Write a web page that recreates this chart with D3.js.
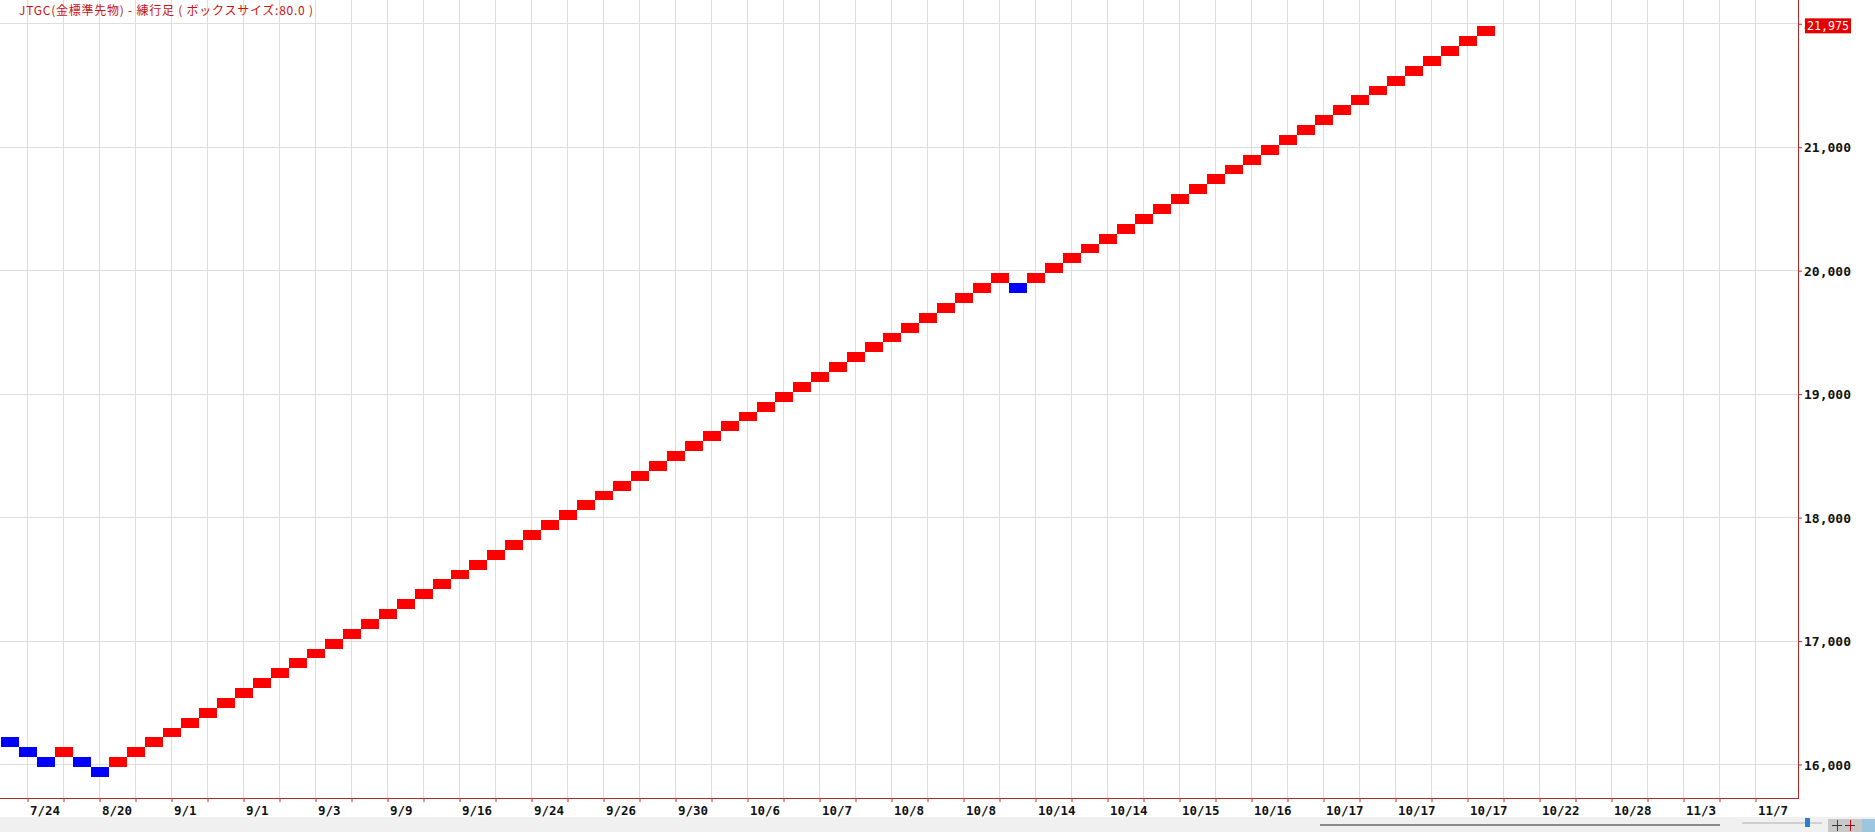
<!DOCTYPE html>
<html>
<head>
<meta charset="utf-8">
<script src="https://cdn.jsdelivr.net/npm/d3@7"></script>
<style>
    body { margin: 0; background: #fff; overflow: hidden; }
</style>
</head>
<body>
<div id="renko_chart"></div>
<script>
var title = "JTGC(金標準先物) - 練行足 ( ボックスサイズ:80.0 )";
var boxSize = 80;
var lastPrice = 21975;

// bottom price of each brick
var brickLow = [
    16135, 16055, 15975, 16055, 15975, 15895,
    15975, 16055, 16135, 16215, 16295, 16375, 16455, 16535, 16615, 16695,
    16775, 16855, 16935, 17015, 17095, 17175, 17255, 17335, 17415, 17495,
    17575, 17655, 17735, 17815, 17895, 17975, 18055, 18135, 18215, 18295,
    18375, 18455, 18535, 18615, 18695, 18775, 18855, 18935, 19015, 19095,
    19175, 19255, 19335, 19415, 19495, 19575, 19655, 19735, 19815, 19895,
    19815,
    19895, 19975, 20055, 20135, 20215, 20295, 20375, 20455, 20535, 20615,
    20695, 20775, 20855, 20935, 21015, 21095, 21175, 21255, 21335, 21415,
    21495, 21575, 21655, 21735, 21815, 21895
];
// U = up (red), D = down (blue)
var brickDir = "DDDUDD" +
    "UUUUUUUUUU" + "UUUUUUUUUU" + "UUUUUUUUUU" + "UUUUUUUUUU" + "UUUUUUUUUU" +
    "D" +
    "UUUUUUUUUU" + "UUUUUUUUUU" + "UUUUUU";

var dateLabels = ["7/24", "8/20", "9/1", "9/1", "9/3", "9/9", "9/16", "9/24", "9/26", "9/30",
    "10/6", "10/7", "10/8", "10/8", "10/14", "10/14", "10/15", "10/16", "10/17", "10/17",
    "10/17", "10/22", "10/28", "11/3", "11/7"];

var priceTicks = [16000, 17000, 18000, 19000, 20000, 21000, 22000];

function renkoChart(id) {
    var width = 1875, height = 832;
    var plotRight = 1798, plotBottom = 798;
    var axisColor = "#b8272b", gridColor = "#dddddd";
    var font = "'DejaVu Sans Mono', 'Liberation Mono', monospace";

    var svg = d3.select("#" + id)
        .html("")
        .append("svg")
        .attr("width", width)
        .attr("height", height);

    // one slot = 18px, two bricks per grid column
    var x = d3.scaleLinear()
        .domain([0, 100])
        .range([1, 1801]);

    var y = d3.scaleLinear()
        .domain([16000, 21000])
        .range([764, 146.7]);

    var tickSlots = d3.range(49).map(k => 1.5 + 2 * k);

    // grid
    var grid = svg.append("g").attr("shape-rendering", "crispEdges");
    grid.selectAll(".vgrid")
        .data(tickSlots)
        .enter().append("line")
        .attr("x1", d => Math.round(x(d)) - 0.5)
        .attr("x2", d => Math.round(x(d)) - 0.5)
        .attr("y1", 0)
        .attr("y2", plotBottom)
        .attr("stroke", gridColor);
    grid.selectAll(".hgrid")
        .data(priceTicks)
        .enter().append("line")
        .attr("x1", 0)
        .attr("x2", plotRight)
        .attr("y1", d => Math.round(y(d)) + 0.5)
        .attr("y2", d => Math.round(y(d)) + 0.5)
        .attr("stroke", gridColor);

    // bricks
    svg.append("g")
        .attr("shape-rendering", "crispEdges")
        .selectAll("rect")
        .data(brickLow)
        .enter().append("rect")
        .attr("x", (d, i) => x(i))
        .attr("width", (d, i) => x(i + 1) - x(i))
        .attr("y", d => y(d + boxSize))
        .attr("height", d => y(d) - y(d + boxSize))
        .attr("fill", (d, i) => brickDir[i] === "U" ? "#ff0000" : "#0000ff");

    // title
    svg.append("text")
        .attr("x", 19)
        .attr("y", 15)
        .attr("textLength", 294)
        .attr("lengthAdjust", "spacing")
        .style("font-family", "'Noto Sans CJK JP', sans-serif")
        .style("font-size", "12px")
        .style("fill", "#cc1111")
        .text(title);

    // x axis
    var xAxis = svg.append("g")
        .attr("transform", "translate(-0.5," + plotBottom + ")")
        .call(d3.axisBottom(x)
            .tickValues(tickSlots)
            .tickSize(4)
            .tickSizeOuter(0)
            .tickFormat((d, k) => k % 2 ? "" : dateLabels[k / 2]));
    xAxis.select(".domain").remove();
    xAxis.selectAll(".tick line").attr("stroke", axisColor);
    xAxis.selectAll(".tick text")
        .attr("text-anchor", "start")
        .attr("x", 2)
        .attr("y", 17)
        .attr("dy", 0)
        .style("font-family", font)
        .style("font-weight", "bold")
        .style("font-size", "12.5px")
        .style("fill", "#111");

    // y axis
    var yAxis = svg.append("g")
        .attr("transform", "translate(" + plotRight + ",0.5)")
        .call(d3.axisRight(y)
            .tickValues(priceTicks)
            .tickSize(4)
            .tickFormat(d3.format(",")));
    yAxis.select(".domain").remove();
    yAxis.selectAll(".tick line").attr("stroke", axisColor);
    yAxis.selectAll(".tick text")
        .attr("x", 6)
        .attr("dy", "0.36em")
        .style("font-family", font)
        .style("font-weight", "bold")
        .style("font-size", "13px")
        .style("fill", "#111");

    // axis frame lines
    svg.append("line")
        .attr("x1", 0).attr("x2", plotRight + 1)
        .attr("y1", plotBottom + 0.5).attr("y2", plotBottom + 0.5)
        .attr("stroke", axisColor);
    svg.append("line")
        .attr("x1", plotRight + 0.5).attr("x2", plotRight + 0.5)
        .attr("y1", 0).attr("y2", plotBottom + 1)
        .attr("stroke", axisColor);

    // last price marker
    var lp = svg.append("g")
        .attr("transform", "translate(1805," + (y(lastPrice) - 8) + ")");
    lp.append("rect")
        .attr("width", 46)
        .attr("height", 15)
        .attr("fill", "#e50000");
    lp.append("text")
        .attr("x", 23)
        .attr("y", 11.5)
        .attr("text-anchor", "middle")
        .style("font-family", font)
        .style("font-size", "11.7px")
        .style("fill", "#fff")
        .text(d3.format(",")(lastPrice));

    // bottom scroll panel
    var panel = svg.append("g").attr("shape-rendering", "crispEdges");
    panel.append("rect")
        .attr("x", 0).attr("y", 817)
        .attr("width", width).attr("height", 15)
        .attr("fill", "#f0f0f0");
    panel.append("rect")
        .attr("x", 1320).attr("y", 824)
        .attr("width", 400).attr("height", 2)
        .attr("fill", "#8a8a8a");
    panel.append("rect")
        .attr("x", 1742).attr("y", 822)
        .attr("width", 80).attr("height", 2)
        .attr("fill", "#d0d0d0");
    panel.append("rect")
        .attr("x", 1805).attr("y", 818)
        .attr("width", 5).attr("height", 9)
        .attr("rx", 1)
        .attr("fill", "#2a7fd4");
    panel.append("rect")
        .attr("x", 1828).attr("y", 819)
        .attr("width", 47).attr("height", 13)
        .attr("fill", "#c8c8c8");
    panel.append("rect")
        .attr("x", 1862).attr("y", 819)
        .attr("width", 13).attr("height", 13)
        .attr("fill", "#9cc6e0");
    [1832, 1845].forEach(function (px) {
        panel.append("line")
            .attr("x1", px).attr("x2", px + 10)
            .attr("y1", 825.5).attr("y2", 825.5)
            .attr("stroke", "#333");
        panel.append("line")
            .attr("x1", px + 5.5).attr("x2", px + 5.5)
            .attr("y1", 820).attr("y2", 831)
            .attr("stroke", "#c00");
    });
}

renkoChart("renko_chart");
</script>
</body>
</html>
